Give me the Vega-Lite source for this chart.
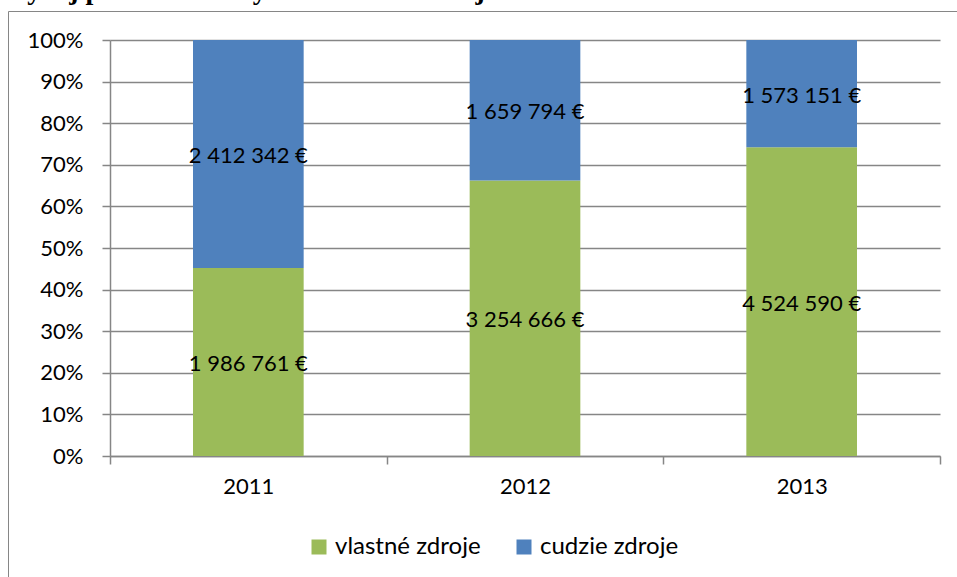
{
  "$schema": "https://vega.github.io/schema/vega-lite/v6.json",
  "autosize": "none",
  "width": 830,
  "height": 416,
  "padding": {"left": 110, "top": 40, "right": 17, "bottom": 121},
  "background": "white",
  "title": {
    "text": "Vývoj podielu vlastných a cudzích zdrojov",
    "font": "Liberation Serif",
    "fontSize": 28,
    "fontWeight": "bold",
    "color": "black",
    "anchor": "start",
    "frame": "group",
    "dx": -103,
    "dy": 16,
    "offset": 0,
    "baseline": "alphabetic"
  },
  "data": {
    "values": [
      {"year": "2011", "source": "vlastné zdroje", "amount": 1986761},
      {"year": "2011", "source": "cudzie zdroje", "amount": 2412342},
      {"year": "2012", "source": "vlastné zdroje", "amount": 3254666},
      {"year": "2012", "source": "cudzie zdroje", "amount": 1659794},
      {"year": "2013", "source": "vlastné zdroje", "amount": 4524590},
      {"year": "2013", "source": "cudzie zdroje", "amount": 1573151}
    ]
  },
  "transform": [
    {"stack": "amount", "groupby": ["year"], "offset": "normalize", "sort": [{"field": "source", "order": "descending"}], "as": ["y0", "y1"]},
    {"calculate": "(datum.y0 + datum.y1) / 2", "as": "ymid"}
  ],
  "encoding": {
    "x": {
      "field": "year",
      "type": "nominal",
      "scale": {"paddingInner": 0, "paddingOuter": 0},
      "axis": {
        "title": null,
        "labelAngle": 0,
        "labelFont": "Lato",
        "labelFontSize": 22,
        "labelColor": "black",
        "labelPadding": 12,
        "domainColor": "#868686",
        "domainWidth": 1.5,
        "tickColor": "#868686",
        "tickWidth": 1.5,
        "tickSize": 8,
        "tickBand": "extent",
        "grid": false
      }
    }
  },
  "layer": [
    {
      "mark": {"type": "bar", "width": {"band": 0.4}},
      "encoding": {
        "y": {
          "field": "y0",
          "type": "quantitative",
          "scale": {"domain": [0, 1], "nice": false},
          "axis": {
            "title": null,
            "format": ".0%",
            "values": [0, 0.1, 0.2, 0.3, 0.4, 0.5, 0.6, 0.7, 0.8, 0.9, 1],
            "labelOverlap": false,
            "labelFont": "Lato",
            "labelFontSize": 22,
            "labelColor": "black",
            "labelPadding": 19,
            "domainColor": "#868686",
            "domainWidth": 1.5,
            "tickColor": "#868686",
            "tickWidth": 1.5,
            "tickSize": 8,
            "grid": true,
            "gridColor": "#868686",
            "gridWidth": 1.5
          }
        },
        "y2": {"field": "y1"},
        "color": {
          "field": "source",
          "type": "nominal",
          "scale": {"domain": ["vlastné zdroje", "cudzie zdroje"], "range": ["#9BBB59", "#4F81BD"]},
          "legend": {
            "title": null,
            "orient": "none",
            "direction": "horizontal",
            "legendX": 197,
            "legendY": 495,
            "symbolType": "square",
            "symbolSize": 225,
            "symbolStrokeWidth": 0,
            "symbolOpacity": 1,
            "labelFont": "Lato",
            "labelFontSize": 24,
            "labelColor": "black",
            "labelOffset": 4,
            "columnPadding": 31
          }
        },
        "opacity": {
          "datum": "frame",
          "type": "nominal",
          "scale": {"range": [1, 1]},
          "legend": {
            "title": null,
            "orient": "none",
            "legendX": -102,
            "legendY": -29,
            "padding": 490,
            "strokeColor": "#868686",
            "symbolSize": 0,
            "symbolStrokeWidth": 0,
            "labelExpr": "''",
            "labelFontSize": 1
          }
        }
      }
    },
    {
      "mark": {"type": "text", "font": "Lato", "fontSize": 22, "color": "black", "baseline": "middle", "dy": 2},
      "encoding": {
        "y": {
          "field": "ymid",
          "type": "quantitative",
          "scale": {"domain": [0, 1], "nice": false},
          "axis": {
            "title": null,
            "format": ".0%",
            "values": [0, 0.1, 0.2, 0.3, 0.4, 0.5, 0.6, 0.7, 0.8, 0.9, 1],
            "labelOverlap": false,
            "labelFont": "Lato",
            "labelFontSize": 22,
            "labelColor": "black",
            "labelPadding": 19,
            "domainColor": "#868686",
            "domainWidth": 1.5,
            "tickColor": "#868686",
            "tickWidth": 1.5,
            "tickSize": 8,
            "grid": true,
            "gridColor": "#868686",
            "gridWidth": 1.5
          }
        },
        "text": {"field": "amount", "type": "quantitative", "format": "$,.0f"}
      }
    }
  ],
  "config": {
    "view": {"stroke": null},
    "locale": {
      "number": {"decimal": ",", "thousands": "\u00a0", "grouping": [3], "currency": ["", "\u00a0€"]}
    }
  }
}
